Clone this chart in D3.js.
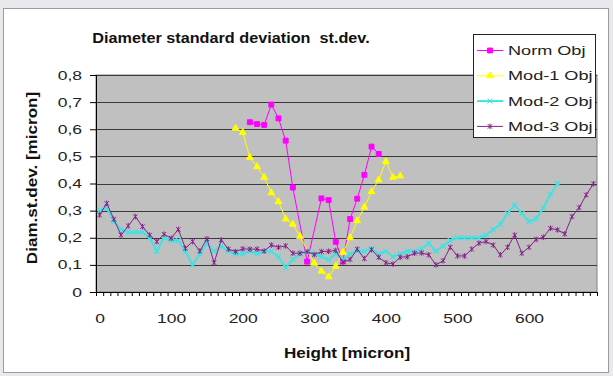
<!DOCTYPE html>
<html>
<head>
<meta charset="utf-8">
<script src="https://cdn.jsdelivr.net/npm/d3@7"></script>
<style>
  body { margin: 0; background: #e9e9ed; }
  svg { display: block; font-family: "Liberation Sans", Arial, sans-serif; }
</style>
</head>
<body>
<div id="chart"></div>
<script>
//size
const width = 613;
const height = 376;

//categories: height [micron]
const heights = [0, 10, 20, 30, 40, 50, 60, 70, 80, 90, 100, 110, 120, 130, 140, 150, 160, 170, 180, 190,
  200, 210, 220, 230, 240, 250, 260, 270, 280, 290, 300, 310, 320, 330, 340, 350, 360, 370, 380, 390,
  400, 410, 420, 430, 440, 450, 460, 470, 480, 490, 500, 510, 520, 530, 540, 550, 560, 570, 580, 590,
  600, 610, 620, 630, 640, 650, 660, 670, 680, 690];

//Norm Obj
const normHeights = [210, 220, 230, 240, 250, 260, 270, 290, 310, 320, 330, 340, 350, 360, 370, 380, 390];
const normValues = [0.626, 0.619, 0.616, 0.691, 0.64, 0.558, 0.385, 0.112, 0.345, 0.339, 0.185, 0.113, 0.269, 0.344, 0.432, 0.536, 0.509];

//Mod-1 Obj
const mod1Heights = [190, 200, 210, 220, 230, 240, 250, 260, 270, 280, 300, 310, 320, 330, 340, 350, 360, 370, 380, 390, 400, 410, 420];
const mod1Values = [0.604, 0.588, 0.496, 0.462, 0.423, 0.366, 0.333, 0.269, 0.25, 0.205, 0.106, 0.077, 0.056, 0.095, 0.146, 0.2, 0.263, 0.313, 0.37, 0.413, 0.481, 0.423, 0.428];

//Mod-2 Obj (0 .. 640)
const mod2Values = [0.30, 0.31, 0.26, 0.23, 0.22, 0.22, 0.22, 0.20, 0.15, 0.20,
  0.19, 0.19, 0.15, 0.10, 0.14, 0.18, 0.15, 0.17, 0.15, 0.14,
  0.14, 0.15, 0.14, 0.15, 0.15, 0.13, 0.09, 0.12, 0.14, 0.15,
  0.14, 0.13, 0.12, 0.14, 0.12, 0.14, 0.15, 0.15, 0.16, 0.14,
  0.15, 0.13, 0.14, 0.15, 0.15, 0.16, 0.18, 0.15, 0.17, 0.19,
  0.20, 0.20, 0.20, 0.20, 0.21, 0.23, 0.25, 0.29, 0.32, 0.29,
  0.26, 0.27, 0.31, 0.36, 0.40];

//Mod-3 Obj (0 .. 690)
const mod3Values = [0.284, 0.327, 0.268, 0.21, 0.244, 0.278, 0.241, 0.21, 0.186, 0.213,
  0.198, 0.231, 0.161, 0.186, 0.151, 0.196, 0.108, 0.192, 0.158, 0.149,
  0.159, 0.158, 0.158, 0.151, 0.173, 0.165, 0.17, 0.143, 0.143, 0.149,
  0.138, 0.149, 0.15, 0.153, 0.11, 0.12, 0.158, 0.123, 0.156, 0.128,
  0.108, 0.103, 0.128, 0.13, 0.143, 0.144, 0.137, 0.1, 0.115, 0.165,
  0.133, 0.133, 0.158, 0.18, 0.186, 0.173, 0.137, 0.165, 0.21, 0.143,
  0.165, 0.194, 0.202, 0.235, 0.229, 0.214, 0.278, 0.311, 0.358, 0.399];

//axis ticks
const yTicks = [0, 0.1, 0.2, 0.3, 0.4, 0.5, 0.6, 0.7, 0.8];
const xLabels = [0, 100, 200, 300, 400, 500, 600];

//text widening (the reference font runs wide)
const SX_TICK = 1.4;
const SX_LEGEND = 1.45;
const SX_TITLE = 1.12;
const SX_AXIS = 1.22;

//series table
const series = [
  { name: "Norm Obj", color: "#ff00ff", width: 1, marker: "square",
    points: normHeights.map((h, i) => ({ h, v: normValues[i] })) },
  { name: "Mod-1 Obj", color: "#ffff00", width: 1, marker: "triangle",
    points: mod1Heights.map((h, i) => ({ h, v: mod1Values[i] })) },
  { name: "Mod-2 Obj", color: "#40e2e2", width: 2, marker: "x",
    points: mod2Values.map((v, i) => ({ h: heights[i], v })) },
  { name: "Mod-3 Obj", color: "#86208a", width: 1, marker: "star",
    points: mod3Values.map((v, i) => ({ h: heights[i], v })) },
];

//scales
const x = d3.scaleLinear().domain([-5, 695]).range([96, 597]);
const y = d3.scaleLinear().domain([0, 0.8]).range([292, 75]);

const svg = d3.select("#chart").append("svg")
  .attr("width", width)
  .attr("height", height);

//chart area
svg.append("rect")
  .attr("x", 3.5).attr("y", 8.5)
  .attr("width", 605).attr("height", 364)
  .attr("fill", "white")
  .attr("stroke", "#9a9a9a");

//plot area
svg.append("rect")
  .attr("x", x(-5)).attr("y", y(0.8))
  .attr("width", x(695) - x(-5)).attr("height", y(0) - y(0.8))
  .attr("fill", "#c0c0c0")
  .attr("stroke", "#808080");

//gridlines
svg.append("g")
  .selectAll("line")
  .data(yTicks.slice(1))
  .enter()
  .append("line")
  .attr("x1", x(-5)).attr("x2", x(695))
  .attr("y1", (d) => Math.round(y(d)) + 0.5)
  .attr("y2", (d) => Math.round(y(d)) + 0.5)
  .attr("stroke", "#3a3a3a")
  .attr("stroke-width", 1.2);

//widen a text selection around its anchor
function stretch(sel, sx) {
  sel.each(function () {
    const t = d3.select(this);
    const tx = +t.attr("x") || 0;
    t.attr("x", tx / sx).attr("transform", `scale(${sx},1)`);
  });
}

//y axis
const yAxis = svg.append("g")
  .attr("transform", `translate(${x(-5)},0)`)
  .call(d3.axisLeft(y)
    .tickValues(yTicks)
    .tickSize(6)
    .tickPadding(8)
    .tickFormat((d) => (d === 0 ? "0" : d3.format(".1f")(d).replace(".", ","))));
yAxis.select(".domain").attr("stroke", "#000");
yAxis.selectAll("text")
  .attr("font-size", 12.5)
  .attr("font-family", "Liberation Sans, Arial, sans-serif")
  .attr("fill", "#222")
  .call(stretch, SX_TICK);

//x axis: category tick marks
const xTickMarks = heights.map((h) => h - 5).concat([695]);
const xAxis = svg.append("g")
  .attr("transform", `translate(0,${y(0)})`)
  .call(d3.axisBottom(x).tickValues(xTickMarks).tickSize(4).tickFormat(""));
xAxis.select(".domain").attr("stroke", "#000");

//x axis: labels
const xAxisLabels = svg.append("g")
  .attr("transform", `translate(0,${y(0)})`)
  .call(d3.axisBottom(x).tickValues(xLabels).tickSize(0).tickPadding(22));
xAxisLabels.select(".domain").remove();
xAxisLabels.selectAll("text")
  .attr("font-size", 12.5)
  .attr("font-family", "Liberation Sans, Arial, sans-serif")
  .attr("fill", "#222")
  .call(stretch, SX_TICK);

//marker shapes
function markerPath(type) {
  if (type === "square") return d3.symbol(d3.symbolSquare, 24)();
  if (type === "triangle") return d3.symbol(d3.symbolTriangle, 20)();
  if (type === "x") return "M-2.5,-2.5L2.5,2.5M-2.5,2.5L2.5,-2.5";
  return "M-2.2,-2.2L2.2,2.2M-2.2,2.2L2.2,-2.2M0,-2.8L0,2.8";
}

const line = d3.line().x((d) => x(d.h)).y((d) => y(d.v));

//series
const gSeries = svg.append("g")
  .selectAll("g.series")
  .data(series)
  .enter()
  .append("g")
  .attr("class", "series");

gSeries.append("path")
  .attr("fill", "none")
  .attr("stroke", (d) => d.color)
  .attr("stroke-width", (d) => d.width)
  .attr("d", (d) => line(d.points));

gSeries.each(function (s) {
  d3.select(this)
    .selectAll("path.marker")
    .data(s.points)
    .enter()
    .append("path")
    .attr("class", "marker")
    .attr("transform", (d) => `translate(${x(d.h)},${y(d.v)})`)
    .attr("d", markerPath(s.marker))
    .attr("fill", s.marker === "square" || s.marker === "triangle" ? s.color : "none")
    .attr("stroke", s.color)
    .attr("stroke-width", s.marker === "x" ? 1.3 : 1);
});

//legend
const legend = svg.append("g");
legend.append("rect")
  .attr("x", 473.5).attr("y", 34.5)
  .attr("width", 122).attr("height", 103)
  .attr("fill", "white")
  .attr("stroke", "#222");

const item = legend.selectAll("g.item")
  .data(series)
  .enter()
  .append("g")
  .attr("class", "item")
  .attr("transform", (d, i) => `translate(477,${50.5 + i * 25.3})`);

item.append("line")
  .attr("x1", 0).attr("x2", 26)
  .attr("stroke", (d) => d.color)
  .attr("stroke-width", (d) => d.width);

item.append("path")
  .attr("transform", "translate(13,0)")
  .attr("d", (d) => markerPath(d.marker))
  .attr("fill", (d) => (d.marker === "square" || d.marker === "triangle" ? d.color : "none"))
  .attr("stroke", (d) => d.color);

item.append("text")
  .attr("dy", "0.36em")
  .attr("font-size", 12.5)
  .attr("fill", "#222")
  .text((d) => d.name)
  .attr("x", 31)
  .call(stretch, SX_LEGEND);

//title
svg.append("text")
  .attr("transform", `translate(231,43) scale(${SX_TITLE},1)`)
  .attr("text-anchor", "middle")
  .attr("font-size", 14.5)
  .attr("font-weight", "bold")
  .attr("fill", "#111")
  .style("white-space", "pre")
  .text("Diameter standard deviation  st.dev.");

//axis titles
svg.append("text")
  .attr("transform", `translate(37,178) rotate(-90) scale(${SX_AXIS},1)`)
  .attr("text-anchor", "middle")
  .attr("font-size", 14)
  .attr("font-weight", "bold")
  .attr("fill", "#111")
  .text("Diam.st.dev. [micron]");

svg.append("text")
  .attr("transform", `translate(347,358) scale(${SX_AXIS},1)`)
  .attr("text-anchor", "middle")
  .attr("font-size", 14)
  .attr("font-weight", "bold")
  .attr("fill", "#111")
  .text("Height [micron]");
</script>
</body>
</html>
